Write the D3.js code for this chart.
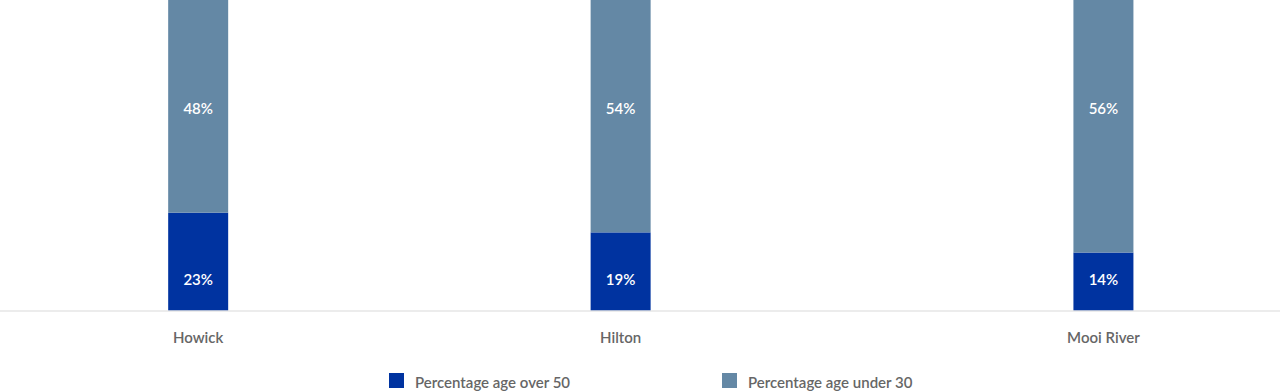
<!DOCTYPE html>
<html><head><meta charset="utf-8">
<script src="https://cdn.jsdelivr.net/npm/d3@7/dist/d3.min.js"></script>
<style>
html,body{margin:0;padding:0;background:#fff;}
svg{display:block;font-family:"Source Sans Pro","Lato","Open Sans",sans-serif;}
</style></head>
<body><svg id="c" width="1280" height="392"></svg>
<script>
// ---- data ----
const categories = ["Howick", "Hilton", "Mooi River"];
const categorySlots = [2, 9, 17];          // slot of each category on the category axis
const over50 = [23.3, 18.6, 13.8];         // Percentage age over 50 (labels shown rounded: 23, 19, 14)
const under30 = [48, 54, 56];              // Percentage age under 30
const seriesNames = ["Percentage age over 50", "Percentage age under 30"];
const seriesColors = ["#0033a0", "#6488a5"];

// ---- layout ----
const W = 1280, H = 392;
const baseY = 310.5, plotTop = 0;
const nSlots = 20;
const svg = d3.select("#c");

const x = d3.scaleBand().domain(d3.range(nSlots)).range([47.3, 47.3 + nSlots * 60.35]).padding(0);
const y = d3.scaleLinear().domain([0, 100]).range([baseY, baseY - 420]);
const barW = 60;

const rows = categories.map((c, i) => ({cat: c, slot: categorySlots[i], over50: over50[i], under30: under30[i]}));
const stack = d3.stack().keys(["over50", "under30"])(rows);

const g = svg.append("g");
stack.forEach((layer, li) => {
  const top = d => li === stack.length - 1 ? Math.min(y(d[1]), plotTop) : y(d[1]); // top segment runs past the visible plot top
  g.selectAll(null).data(layer).enter().append("rect")
    .attr("x", d => x(d.data.slot) + x.bandwidth() / 2 - barW / 2)
    .attr("width", barW)
    .attr("y", d => top(d))
    .attr("height", d => y(d[0]) - top(d))
    .attr("fill", seriesColors[li]);
});

// axis line
svg.append("line").attr("x1", 0).attr("x2", W).attr("y1", baseY + 0.5).attr("y2", baseY + 0.5)
  .attr("stroke", "#d9d9d9").attr("stroke-width", 1);

// data labels
const labelY = [baseY - 32, 108];
stack.forEach((layer, li) => {
  g.selectAll(null).data(layer).enter().append("text")
    .attr("x", d => x(d.data.slot) + x.bandwidth() / 2)
    .attr("y", labelY[li])
    .attr("text-anchor", "middle").attr("dominant-baseline", "central")
    .attr("fill", "#fff").attr("font-size", 15).attr("font-weight", 600)
    .text(d => Math.round(d[1] - d[0]) + "%");
});

// category labels
svg.selectAll(null).data(rows).enter().append("text")
  .attr("x", d => x(d.slot) + x.bandwidth() / 2)
  .attr("y", 337)
  .attr("text-anchor", "middle").attr("dominant-baseline", "central")
  .attr("fill", "#666").attr("font-size", 15).attr("font-weight", 600)
  .text(d => d.cat);

// legend
const legX = [389, 722];
const leg = svg.selectAll(null).data(seriesNames).enter().append("g")
  .attr("transform", (d, i) => `translate(${legX[i]},373)`);
leg.append("rect").attr("width", 15).attr("height", 15).attr("fill", (d, i) => seriesColors[i]);
leg.append("text").attr("x", 26).attr("y", 8.5).attr("dominant-baseline", "central")
  .attr("fill", "#666").attr("font-size", 15).attr("font-weight", 600).text(d => d);
</script></body></html>
